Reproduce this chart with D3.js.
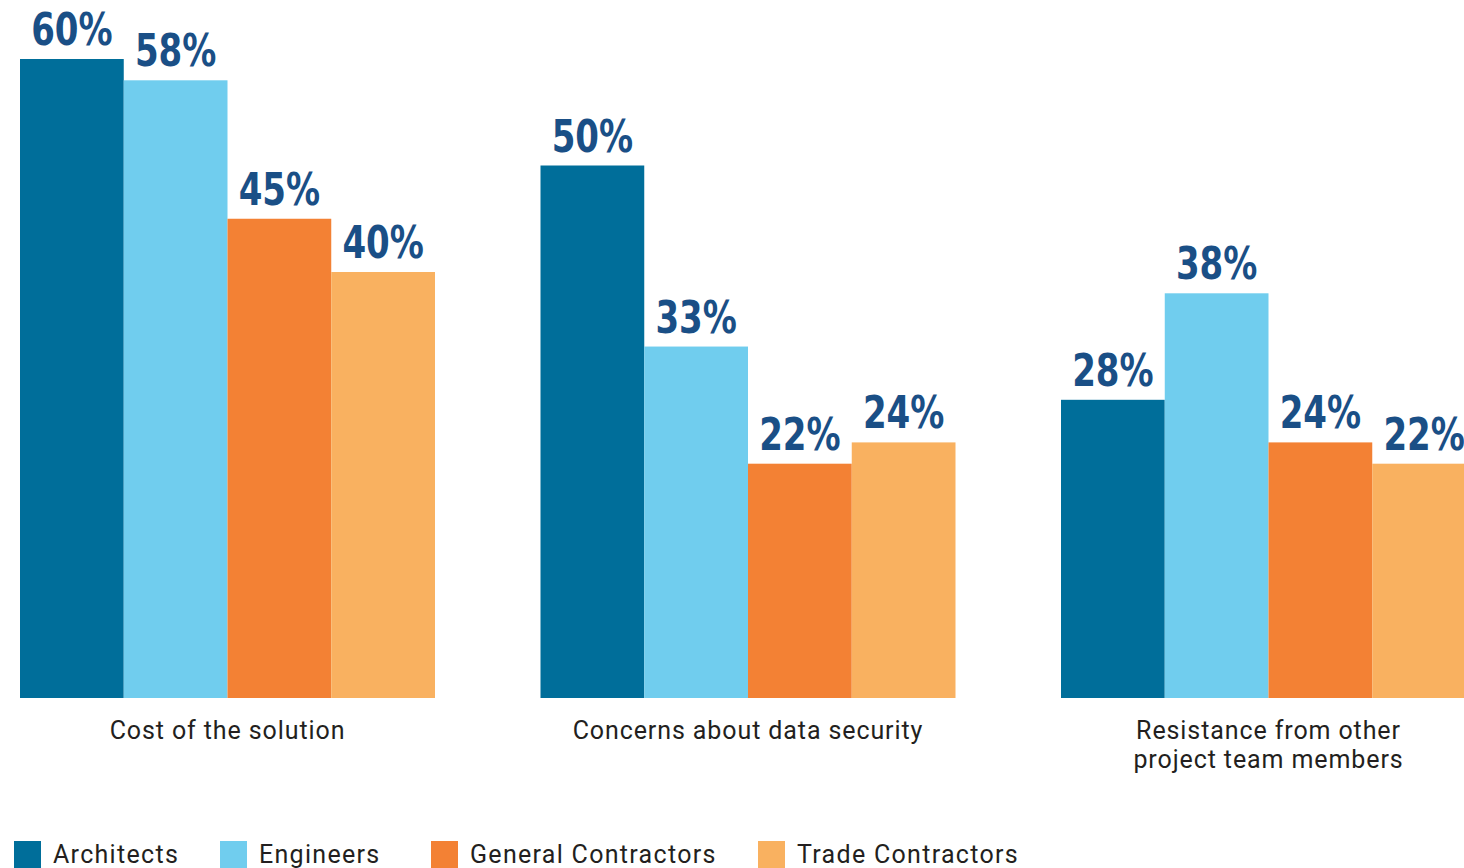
<!DOCTYPE html>
<meta charset="utf-8">
<style>
  body { margin: 0; background: #fff; }
  .pct { font-family: "DejaVu Sans Condensed", "DejaVu Sans", sans-serif; font-weight: bold; fill: #1a4f86; }
  .cat, .legend text { font-family: Roboto, "DejaVu Sans", sans-serif; fill: #231f20; }
</style>
<svg width="1464" height="868"></svg>
<script src="https://cdnjs.cloudflare.com/ajax/libs/d3/7.8.5/d3.min.js"></script>
<script>
  var categories = ["Cost of the solution", "Concerns about data security", "Resistance from other project team members"];
  var categoryLines = [["Cost of the solution"], ["Concerns about data security"], ["Resistance from other", "project team members"]];
  var series = ["Architects", "Engineers", "General Contractors", "Trade Contractors"];
  var architects = [60, 50, 28];
  var engineers = [58, 33, 38];
  var generalContractors = [45, 22, 24];
  var tradeContractors = [40, 24, 22];
  var colors = ["#006e9a", "#70cdee", "#f38134", "#f9b160"];

  var values = [architects, engineers, generalContractors, tradeContractors];
  var data = categories.map(function(c, i) {
    return {cat: c, vals: series.map(function(s, j) { return {key: s, value: values[j][i]}; })};
  });

  var svg = d3.select("svg");

  var x0 = d3.scaleBand()
    .domain(categories)
    .range([20, 1476])
    .paddingInner(0.2027)
    .paddingOuter(0);

  var x1 = d3.scaleBand()
    .domain(series)
    .range([0, x0.bandwidth()]);

  var y = d3.scaleLinear()
    .domain([0, 60])
    .range([698, 59]);

  var z = d3.scaleOrdinal().domain(series).range(colors);

  var group = svg.selectAll(".group")
    .data(data)
    .enter().append("g")
    .attr("class", "group")
    .attr("transform", function(d) { return "translate(" + x0(d.cat) + ",0)"; });

  group.selectAll("rect")
    .data(function(d) { return d.vals; })
    .enter().append("rect")
    .attr("x", function(d) { return x1(d.key); })
    .attr("y", function(d) { return y(d.value); })
    .attr("width", x1.bandwidth())
    .attr("height", function(d) { return y(0) - y(d.value); })
    .attr("fill", function(d) { return z(d.key); });

  // condensed bold value labels: squeeze horizontally around the bar centre
  group.selectAll(".pct")
    .data(function(d) { return d.vals; })
    .enter().append("g")
    .attr("transform", function(d) {
      return "translate(" + (x1(d.key) + x1.bandwidth() / 2) + "," + (y(d.value) - 14) + ") scale(0.86,1)";
    })
    .append("text")
    .attr("class", "pct")
    .attr("text-anchor", "middle")
    .style("font-size", "44px")
    .text(function(d) { return d.value + "%"; });

  group.append("text")
    .attr("class", "cat")
    .attr("text-anchor", "middle")
    .attr("x", x0.bandwidth() / 2)
    .attr("y", 739)
    .style("font-size", "25px")
    .style("letter-spacing", "0.9px")
    .selectAll("tspan")
    .data(function(d, i) { return categoryLines[i]; })
    .enter().append("tspan")
    .attr("x", x0.bandwidth() / 2)
    .attr("dy", function(d, i) { return i ? 29 : 0; })
    .text(function(d) { return d; });

  var legendX = [14, 220, 431, 758];
  var legend = svg.selectAll(".legend")
    .data(series)
    .enter().append("g")
    .attr("class", "legend")
    .attr("transform", function(d, i) { return "translate(" + legendX[i] + ",841)"; });

  legend.append("rect")
    .attr("width", 27)
    .attr("height", 27)
    .attr("fill", z);

  legend.append("text")
    .attr("x", 39)
    .attr("y", 22)
    .style("font-size", "25px")
    .style("letter-spacing", "1.3px")
    .text(function(d) { return d; });
</script>
